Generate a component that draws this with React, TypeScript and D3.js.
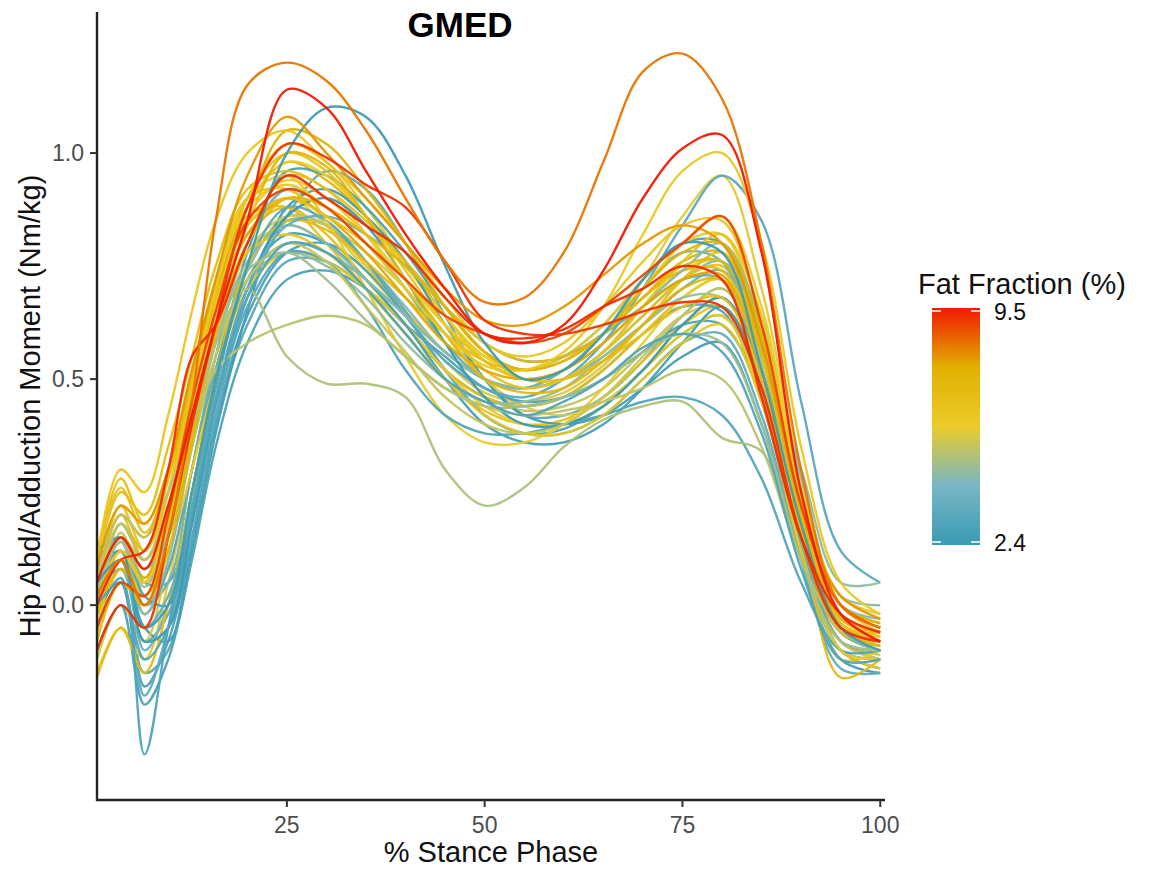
import React from "react";
import * as d3 from "d3";

// % stance phase sample positions
const stance = [1, 4, 7, 10, 13, 16, 20, 25, 30, 35, 40, 45, 50, 55, 60, 65, 70, 75, 80, 85, 90, 95, 100];

// fat fraction (%) of each subject
const fatFraction = [
  5.7, 6.3, 3.4, 5.3, 7.6, 2.9, 6.6, 4.2,
  2.8, 3.2, 6.0, 5.8, 2.6, 6.6, 3.5, 6.9, 3.8, 5.6, 2.9, 6.8, 3.3, 6.1, 2.7, 5.9,
  4.0, 7.0, 4.6, 3.1, 4.4, 6.4, 2.4, 3.6, 6.5, 7.8, 5.4, 6.7, 7.3, 4.8, 6.0, 7.2,
  7.5, 6.2, 6.3, 5.2, 5.0, 3.0, 2.5, 8.0, 9.2, 9.0, 9.3, 8.4, 9.5,
];

// hip abduction moment (Nm/kg) of each subject at the stance positions
const moments: number[][] = [
  [0.06,0.20,0.10,0.20,0.42,0.64,0.84,0.90,0.84,0.74,0.64,0.54,0.47,0.45,0.47,0.53,0.62,0.70,0.74,0.56,0.20,-0.04,-0.07],
  [-0.06,0.08,0.02,0.16,0.40,0.66,0.90,1.02,0.98,0.88,0.76,0.64,0.54,0.50,0.52,0.58,0.66,0.74,0.76,0.56,0.18,-0.06,-0.10],
  [0.04,0.10,-0.08,-0.02,0.20,0.44,0.68,0.86,0.96,0.92,0.80,0.64,0.50,0.42,0.42,0.46,0.54,0.64,0.70,0.54,0.18,-0.06,-0.09],
  [0.00,0.16,0.06,0.18,0.40,0.60,0.78,0.84,0.80,0.72,0.62,0.52,0.46,0.43,0.44,0.48,0.56,0.64,0.66,0.48,0.14,-0.08,-0.11],
  [0.03,0.14,0.06,0.22,0.46,0.68,0.88,0.98,0.94,0.86,0.76,0.64,0.55,0.52,0.54,0.60,0.68,0.76,0.78,0.57,0.19,-0.03,-0.07],
  [-0.02,0.06,-0.18,-0.08,0.14,0.40,0.64,0.78,0.80,0.74,0.64,0.52,0.42,0.38,0.39,0.44,0.52,0.60,0.64,0.48,0.14,-0.08,-0.12],
  [0.12,0.26,0.16,0.28,0.50,0.70,0.86,0.88,0.80,0.70,0.60,0.50,0.43,0.40,0.41,0.46,0.54,0.62,0.66,0.50,0.16,-0.06,-0.09],
  [0.06,0.14,0.00,0.08,0.30,0.52,0.74,0.86,0.84,0.76,0.66,0.56,0.50,0.48,0.50,0.56,0.64,0.72,0.76,0.60,0.24,0.00,-0.03],
  [0.10,0.15,0.05,0.05,0.25,0.50,0.78,0.96,0.95,0.88,0.78,0.66,0.56,0.52,0.55,0.62,0.72,0.80,0.80,0.58,0.20,-0.05,-0.08],
  [0.00,0.05,-0.15,-0.10,0.15,0.40,0.62,0.76,0.76,0.70,0.62,0.52,0.46,0.44,0.46,0.52,0.60,0.66,0.65,0.45,0.12,-0.10,-0.12],
  [-0.05,0.10,0.05,0.18,0.40,0.65,0.88,0.98,0.95,0.86,0.75,0.64,0.55,0.52,0.55,0.62,0.72,0.80,0.82,0.60,0.22,-0.03,-0.07],
  [-0.15,-0.05,-0.12,0.05,0.30,0.55,0.80,0.95,0.92,0.82,0.70,0.58,0.50,0.48,0.52,0.60,0.72,0.86,0.95,0.70,0.28,0.00,-0.06],
  [0.05,0.12,-0.05,-0.08,0.12,0.38,0.65,0.88,0.92,0.86,0.76,0.62,0.50,0.42,0.40,0.42,0.48,0.55,0.58,0.40,0.10,-0.12,-0.15],
  [0.02,0.15,0.10,0.25,0.50,0.72,0.90,0.92,0.85,0.75,0.65,0.56,0.50,0.48,0.50,0.56,0.64,0.72,0.75,0.55,0.18,-0.06,-0.10],
  [-0.05,0.05,-0.20,-0.05,0.20,0.45,0.70,0.85,0.84,0.76,0.65,0.52,0.42,0.38,0.38,0.42,0.50,0.58,0.60,0.42,0.10,-0.14,-0.15],
  [0.05,0.18,0.12,0.28,0.48,0.66,0.82,0.88,0.82,0.72,0.62,0.52,0.46,0.44,0.46,0.52,0.60,0.68,0.72,0.52,0.18,-0.04,-0.08],
  [0.08,0.15,0.00,0.05,0.30,0.55,0.80,0.92,0.88,0.80,0.70,0.58,0.50,0.48,0.52,0.60,0.70,0.78,0.76,0.52,0.15,-0.08,-0.12],
  [-0.12,0.00,-0.08,0.10,0.35,0.58,0.78,0.86,0.84,0.78,0.70,0.60,0.50,0.44,0.42,0.45,0.52,0.62,0.68,0.50,0.15,-0.08,-0.12],
  [-0.10,0.00,-0.22,-0.12,0.10,0.35,0.58,0.72,0.74,0.70,0.62,0.55,0.48,0.45,0.46,0.50,0.56,0.62,0.62,0.46,0.15,-0.06,-0.08],
  [0.08,0.25,0.20,0.35,0.55,0.75,0.92,0.96,0.92,0.85,0.76,0.66,0.56,0.50,0.50,0.54,0.62,0.72,0.78,0.58,0.20,-0.02,-0.06],
  [0.02,0.10,-0.02,0.08,0.30,0.52,0.75,0.88,0.85,0.76,0.64,0.54,0.48,0.46,0.50,0.58,0.70,0.84,0.95,0.85,0.45,0.12,0.05],
  [-0.02,0.10,0.02,0.12,0.30,0.50,0.70,0.78,0.76,0.70,0.62,0.52,0.44,0.40,0.40,0.44,0.52,0.60,0.64,0.46,0.12,-0.12,-0.10],
  [0.12,0.15,0.02,0.00,0.22,0.48,0.72,0.82,0.80,0.72,0.62,0.50,0.40,0.36,0.36,0.40,0.48,0.58,0.66,0.50,0.15,-0.10,-0.14],
  [0.00,0.15,0.08,0.20,0.45,0.70,0.90,0.95,0.85,0.70,0.55,0.42,0.36,0.36,0.40,0.48,0.58,0.68,0.72,0.52,0.15,-0.10,-0.12],
  [0.00,0.10,-0.10,0.00,0.25,0.50,0.72,0.80,0.78,0.72,0.64,0.56,0.50,0.48,0.50,0.55,0.62,0.70,0.74,0.56,0.18,-0.06,-0.10],
  [-0.16,-0.05,-0.15,0.00,0.25,0.50,0.75,0.85,0.83,0.76,0.68,0.60,0.54,0.52,0.54,0.60,0.68,0.74,0.74,0.55,0.18,-0.16,-0.12],
  [0.02,0.12,-0.02,0.10,0.35,0.55,0.72,0.78,0.75,0.68,0.58,0.50,0.45,0.45,0.48,0.55,0.62,0.68,0.68,0.55,0.30,0.05,0.05],
  [-0.05,0.05,-0.12,-0.05,0.18,0.42,0.66,0.78,0.76,0.66,0.52,0.42,0.38,0.38,0.40,0.42,0.45,0.46,0.42,0.28,0.05,-0.10,-0.10],
  [0.05,0.15,0.08,0.15,0.38,0.58,0.76,0.84,0.80,0.72,0.64,0.56,0.50,0.48,0.50,0.56,0.66,0.74,0.80,0.62,0.28,0.02,0.00],
  [0.02,0.12,0.05,0.18,0.40,0.62,0.78,0.82,0.78,0.70,0.60,0.50,0.42,0.38,0.38,0.42,0.50,0.58,0.62,0.45,0.12,-0.10,-0.14],
  [0.08,0.12,-0.08,-0.05,0.18,0.45,0.70,0.86,0.90,0.84,0.72,0.58,0.46,0.40,0.40,0.44,0.52,0.62,0.68,0.52,0.15,-0.08,-0.10],
  [0.03,0.08,-0.05,0.02,0.22,0.46,0.70,0.84,0.86,0.82,0.75,0.66,0.58,0.54,0.55,0.60,0.66,0.72,0.72,0.50,0.14,-0.08,-0.10],
  [0.05,0.22,0.12,0.25,0.48,0.70,0.90,1.00,0.96,0.86,0.74,0.62,0.52,0.48,0.50,0.56,0.66,0.76,0.82,0.64,0.24,0.00,-0.04],
  [-0.02,0.12,0.05,0.20,0.42,0.62,0.82,0.90,0.86,0.78,0.68,0.58,0.52,0.50,0.52,0.58,0.66,0.72,0.73,0.52,0.16,-0.06,-0.08],
  [0.00,0.15,0.05,0.15,0.35,0.55,0.72,0.80,0.76,0.66,0.56,0.46,0.40,0.38,0.40,0.46,0.55,0.64,0.70,0.54,0.18,-0.06,-0.08],
  [0.10,0.28,0.18,0.30,0.50,0.68,0.84,0.90,0.86,0.80,0.72,0.62,0.54,0.50,0.50,0.54,0.60,0.66,0.68,0.50,0.15,-0.05,-0.06],
  [-0.02,0.08,0.00,0.12,0.36,0.60,0.84,1.00,0.97,0.86,0.72,0.60,0.50,0.47,0.48,0.54,0.62,0.70,0.72,0.52,0.16,-0.05,-0.09],
  [0.03,0.14,0.04,0.16,0.38,0.58,0.74,0.78,0.72,0.63,0.55,0.48,0.44,0.44,0.46,0.50,0.56,0.60,0.58,0.40,0.10,-0.08,-0.10],
  [0.04,0.18,0.10,0.22,0.44,0.66,0.86,0.94,0.90,0.82,0.72,0.62,0.55,0.52,0.54,0.60,0.70,0.80,0.86,0.66,0.26,0.02,-0.02],
  [-0.08,0.05,0.00,0.15,0.38,0.60,0.80,0.90,0.88,0.82,0.75,0.66,0.58,0.54,0.55,0.60,0.68,0.75,0.76,0.56,0.20,-0.03,-0.06],
  [0.05,0.20,0.15,0.30,0.52,0.70,0.88,1.05,1.02,0.92,0.80,0.66,0.56,0.52,0.54,0.60,0.70,0.78,0.80,0.60,0.22,0.00,-0.04],
  [0.00,0.12,0.05,0.20,0.45,0.70,0.88,0.93,0.88,0.80,0.70,0.60,0.53,0.52,0.56,0.66,0.82,0.96,1.00,0.80,0.35,0.05,-0.02],
  [0.10,0.30,0.25,0.42,0.65,0.85,1.00,1.05,0.98,0.90,0.80,0.68,0.58,0.55,0.58,0.66,0.76,0.84,0.85,0.62,0.25,0.00,-0.05],
  [0.05,0.20,0.15,0.25,0.40,0.52,0.58,0.62,0.64,0.62,0.55,0.48,0.44,0.42,0.43,0.45,0.48,0.52,0.50,0.35,0.10,-0.05,-0.08],
  [0.00,0.18,0.10,0.22,0.42,0.58,0.70,0.55,0.49,0.49,0.46,0.30,0.22,0.26,0.35,0.41,0.44,0.45,0.37,0.34,0.10,-0.08,-0.10],
  [0.00,0.05,-0.33,-0.05,0.20,0.45,0.68,0.80,0.78,0.70,0.60,0.50,0.45,0.42,0.45,0.50,0.57,0.60,0.56,0.38,0.08,-0.12,-0.12],
  [0.05,0.10,-0.05,0.00,0.25,0.50,0.75,1.00,1.10,1.08,0.95,0.75,0.58,0.50,0.52,0.60,0.72,0.80,0.78,0.52,0.18,-0.05,-0.10],
  [0.08,0.22,0.18,0.30,0.52,0.72,0.95,1.08,1.00,0.90,0.80,0.70,0.63,0.62,0.66,0.73,0.80,0.84,0.80,0.58,0.22,0.02,-0.03],
  [-0.10,0.00,-0.05,0.15,0.40,0.62,0.88,1.02,0.99,0.93,0.88,0.76,0.63,0.60,0.60,0.62,0.65,0.67,0.66,0.48,0.15,-0.05,-0.08],
  [-0.05,0.05,0.02,0.20,0.45,0.65,0.85,0.92,0.88,0.80,0.72,0.64,0.60,0.58,0.60,0.66,0.73,0.80,0.86,0.62,0.22,0.00,-0.05],
  [0.00,0.10,0.12,0.30,0.55,0.62,0.80,0.95,0.90,0.84,0.78,0.68,0.60,0.59,0.61,0.66,0.70,0.75,0.72,0.46,0.15,-0.02,-0.06],
  [0.02,0.10,0.00,0.15,0.45,0.85,1.15,1.20,1.16,1.05,0.90,0.76,0.67,0.68,0.78,0.98,1.18,1.22,1.12,0.80,0.30,0.00,-0.05],
  [0.05,0.15,0.08,0.22,0.42,0.62,0.85,1.14,1.10,0.96,0.82,0.70,0.60,0.58,0.62,0.74,0.90,1.01,1.04,0.78,0.25,-0.02,-0.08],
];

const xTicks = [25, 50, 75, 100];
const yTicks = [0.0, 0.5, 1.0];
const legendTicks = [2.4, 9.5];
const palette = ["#3B9AB2", "#78B7C5", "#EBCC2A", "#E1AF00", "#F21A00"];

const W = 1156;
const H = 871;
const FONT = "'Liberation Sans', Arial, Helvetica, sans-serif";

export default function App() {
  const x = d3.scaleLinear().domain([1, 100.6]).range([97, 885]);
  const y = d3.scaleLinear().domain([-0.431, 1.312]).range([800, 12]);
  const ffExtent = [2.4, 9.5];
  const color = d3
    .scaleLinear<string>()
    .domain(palette.map((_, i) => ffExtent[0] + (i * (ffExtent[1] - ffExtent[0])) / (palette.length - 1)))
    .range(palette)
    .interpolate(d3.interpolateRgb);

  const line = d3
    .line<number>()
    .x((_, i) => x(stance[i]))
    .y((d) => y(d))
    .curve(d3.curveCatmullRom.alpha(0.5));

  const legendY = d3.scaleLinear().domain(ffExtent).range([542, 311]);
  const barX0 = 932;
  const barX1 = 980;

  return (
    <div style={{ position: "absolute", left: 0, top: 0 }}>
      <svg width={W} height={H} style={{ display: "block", background: "#fff" }} fontFamily={FONT}>
        <defs>
          <linearGradient id="ffgrad" x1="0" y1="1" x2="0" y2="0">
            {palette.map((c, i) => (
              <stop key={i} offset={`${(i / (palette.length - 1)) * 100}%`} stopColor={c} />
            ))}
          </linearGradient>
          <clipPath id="panel">
            <rect x={97} y={12} width={790} height={788} />
          </clipPath>
        </defs>

        <g clipPath="url(#panel)">
          {moments.map((m, i) => (
            <path
              key={i}
              d={line(m) || ""}
              fill="none"
              stroke={color(fatFraction[i])}
              strokeWidth={2.4}
              strokeLinejoin="round"
              strokeOpacity={0.95}
            />
          ))}
        </g>

        {/* axes */}
        <line x1={97} x2={97} y1={12} y2={801} stroke="#222" strokeWidth={2.4} />
        <line x1={96} x2={885} y1={800} y2={800} stroke="#222" strokeWidth={2.4} />
        {yTicks.map((t) => (
          <g key={t}>
            <line x1={90} x2={97} y1={y(t)} y2={y(t)} stroke="#333" strokeWidth={2} />
            <text x={84} y={y(t)} dy="0.35em" textAnchor="end" fontSize={23} fill="#4d4d4d">
              {t.toFixed(1)}
            </text>
          </g>
        ))}
        {xTicks.map((t) => (
          <g key={t}>
            <line x1={x(t)} x2={x(t)} y1={800} y2={807} stroke="#333" strokeWidth={2} />
            <text x={x(t)} y={833} textAnchor="middle" fontSize={23} fill="#4d4d4d">
              {t}
            </text>
          </g>
        ))}

        <text x={491} y={862} textAnchor="middle" fontSize={29} fill="#111">
          % Stance Phase
        </text>
        <text transform="translate(40,406) rotate(-90)" textAnchor="middle" fontSize={29} fill="#111">
          Hip Abd/Adduction Moment (Nm/kg)
        </text>
        <text x={460} y={37} textAnchor="middle" fontSize={35} fontWeight="bold" fill="#000">
          GMED
        </text>

        {/* legend */}
        <text x={918} y={294} fontSize={29} fill="#111">
          Fat Fraction (%)
        </text>
        <rect x={barX0} y={308} width={barX1 - barX0} height={237} fill="url(#ffgrad)" />
        {legendTicks.map((t) => (
          <g key={t}>
            <line x1={barX0} x2={barX0 + 9} y1={legendY(t)} y2={legendY(t)} stroke="#fff" strokeWidth={1.5} />
            <line x1={barX1 - 9} x2={barX1} y1={legendY(t)} y2={legendY(t)} stroke="#fff" strokeWidth={1.5} />
            <text x={994} y={legendY(t)} dy="0.4em" fontSize={23} fill="#111">
              {t.toFixed(1)}
            </text>
          </g>
        ))}
      </svg>
    </div>
  );
}
